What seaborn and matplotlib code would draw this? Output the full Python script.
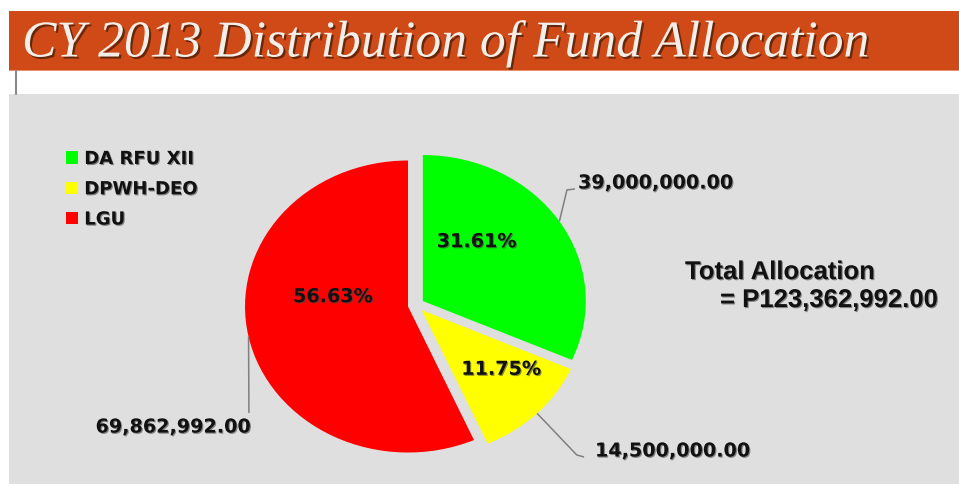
import matplotlib
matplotlib.use("Agg")
import numpy as np
import matplotlib.pyplot as plt
import matplotlib.patheffects as pe
from matplotlib.patches import Rectangle
import seaborn as sns

# ---- data ----
categories = ["DA RFU XII", "DPWH-DEO", "LGU"]
amounts = [39000000.00, 14500000.00, 69862992.00]
percent_labels = ["31.61%", "11.75%", "56.63%"]
amount_labels = ["39,000,000.00", "14,500,000.00", "69,862,992.00"]
slice_colors = ["#00FF00", "#FFFF00", "#FF0000"]
title_text = "CY 2013 Distribution of Fund Allocation"
total_title = "Total Allocation"
total_value = "= P123,362,992.00"

sns.set_theme(style="white")
plt.rcParams["font.family"] = ["DejaVu Sans"]

W, H = 959, 487
fig = plt.figure(figsize=(W / 100, H / 100), dpi=100)
fig.patch.set_facecolor("white")

# ---- background (pixel coordinates) ----
bg = fig.add_axes([0, 0, 1, 1], zorder=0)
bg.set_xlim(0, W)
bg.set_ylim(H, 0)
bg.axis("off")
bg.add_patch(Rectangle((9, 11), W - 9, 60, facecolor="#D04A18", edgecolor="none"))
bg.add_patch(Rectangle((9, 69.5), W - 9, 1.5, facecolor="#E8906A", edgecolor="none"))
bg.add_patch(Rectangle((9, 94), W - 9, 390, facecolor="#DFDFDF", edgecolor="none"))
bg.plot([15.5, 15.5], [71, 94], color="#8a8a8a", lw=1.5)

bg.text(22, 43, title_text, ha="left", va="center", fontsize=37.2,
        family="Liberation Serif", style="italic", color="#F3EFE8",
        path_effects=[pe.SimplePatchShadow(offset=(1.5, -1.5), shadow_rgbFace="#3a1a08", alpha=0.7),
                      pe.Normal()])

txt_fx = [pe.SimplePatchShadow(offset=(0.8, -0.8), shadow_rgbFace="#444444", alpha=0.6), pe.Normal()]

bg.text(685, 272, total_title, ha="left", va="center", fontsize=18.5,
        family="Liberation Sans", weight="bold", color="#111111", path_effects=txt_fx)
bg.text(720, 300, total_value, ha="left", va="center", fontsize=18.5,
        family="Liberation Sans", weight="bold", color="#111111", path_effects=txt_fx)

# ---- pie axes: radius 1 -> 163 px horizontally, 146 px vertically ----
cx, cy, rx, ry, lim = 416, 305, 163, 146, 1.2
axw, axh = 2 * lim * rx / W, 2 * lim * ry / H
ax = fig.add_axes([cx / W - axw / 2, (H - cy) / H - axh / 2, axw, axh], zorder=1)
ax.patch.set_alpha(0)

wedges, _ = ax.pie(amounts, colors=slice_colors, startangle=90, counterclock=False,
                   explode=[0.05] * len(amounts), wedgeprops=dict(linewidth=0))
ax.set_aspect("auto")
ax.set_xlim(-lim, lim)
ax.set_ylim(-lim, lim)
ax.axis("off")

lab_size = 13.8

# percentage labels (pie units)
pct_pos = [(0.372, 0.434), (0.523, -0.440), (-0.510, 0.057)]
for lab, (px, py) in zip(percent_labels, pct_pos):
    ax.text(px, py, lab, ha="center", va="center", fontsize=lab_size, weight="bold",
            color="#111111", path_effects=txt_fx)

# leader lines start at wedge mid-angle on the rim
leader_pts = [  # elbow, end, text anchor, ha
    [(0.926, 0.788), (0.975, 0.795), (0.994, 0.836), "left"],
    [(0.986, -1.027), (1.031, -1.041), (1.098, -1.0), "left"],
    [(-1.025, -0.740), None, (-1.015, -0.836), "right"],
]
for w, lab, (elbow, end, tpos, ha) in zip(wedges, amount_labels, leader_pts):
    mid = np.deg2rad((w.theta1 + w.theta2) / 2)
    sx = w.center[0] + w.r * np.cos(mid)
    sy = w.center[1] + w.r * np.sin(mid)
    xs, ys = [sx, elbow[0]], [sy, elbow[1]]
    if end is not None:
        xs.append(end[0]); ys.append(end[1])
    ax.plot(xs, ys, color="#808080", lw=1.1, clip_on=False, solid_capstyle="butt")
    ax.text(tpos[0], tpos[1], lab, ha=ha, va="center", fontsize=lab_size, weight="bold",
            color="#111111", path_effects=txt_fx, clip_on=False)

# legend
leg = fig.legend(wedges, categories, loc="upper left",
                 bbox_to_anchor=(66 / W, (H - 150) / H), bbox_transform=fig.transFigure,
                 frameon=False, borderpad=0, borderaxespad=0,
                 handlelength=0.68, handleheight=0.68, handletextpad=0.33,
                 labelspacing=0.68, prop=dict(size=13, weight="bold", family="DejaVu Sans"))
for t in leg.get_texts():
    t.set_color("#111111")
    t.set_path_effects(txt_fx)

fig.savefig("out.png", dpi=100, facecolor="white")
